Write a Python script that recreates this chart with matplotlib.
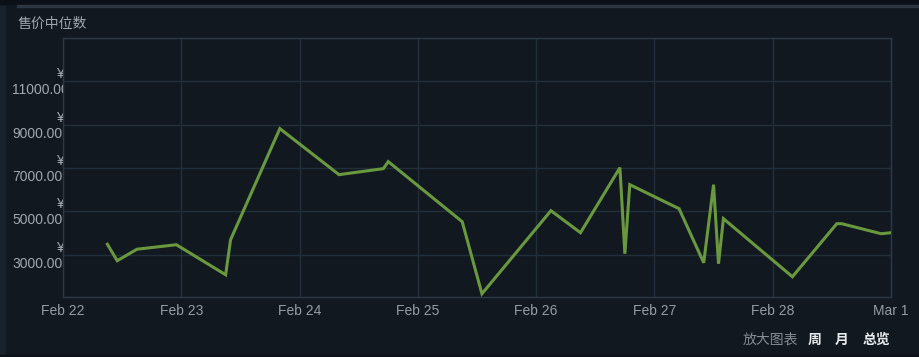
import matplotlib
matplotlib.use("Agg")
import matplotlib.pyplot as plt
import matplotlib.dates as mdates
import matplotlib.transforms as mtrans
from matplotlib.ticker import FuncFormatter
from matplotlib.patches import Rectangle
import pandas as pd

plt.rcParams['font.family'] = ['Liberation Sans', 'Noto Sans CJK SC', 'DejaVu Sans']

# ---- data ----
timestamps = [
    "2023-02-22 09:00", "2023-02-22 11:00", "2023-02-22 15:00", "2023-02-22 23:00",
    "2023-02-23 09:00", "2023-02-23 10:00", "2023-02-23 20:00",
    "2023-02-24 08:00", "2023-02-24 17:00", "2023-02-24 18:00",
    "2023-02-25 09:00", "2023-02-25 13:00",
    "2023-02-26 03:00", "2023-02-26 09:00", "2023-02-26 17:00", "2023-02-26 18:00", "2023-02-26 19:00",
    "2023-02-27 05:00", "2023-02-27 10:00", "2023-02-27 12:00", "2023-02-27 13:00", "2023-02-27 14:00",
    "2023-02-28 04:00", "2023-02-28 13:00", "2023-02-28 14:00", "2023-02-28 22:00",
    "2023-03-01 00:00",
]
median_price = [
    3485, 2723, 3254, 3462,
    2076, 3693, 8820,
    6695, 6972, 7296,
    4524, 1199,
    5032, 4016, 7019, 3046, 6233,
    5125, 2630, 6233, 2584, 4663,
    1984, 4432, 4432, 3970,
    4016,
]
y_ticks = [3000, 5000, 7000, 9000, 11000]
x_start = "2023-02-22"
x_end = "2023-03-01"
title_text = "售价中位数"
footer_label = "放大图表"
footer_buttons = ["周", "月", "总览"]

# ---- style ----
BG = '#111820'
GRID = '#222e39'
BORDER = '#2b3946'
LINE = '#6a983f'
TICK = '#a0a7ae'

W, H = 920, 357
fig = plt.figure(figsize=(W / 100, H / 100), dpi=100)
fig.patch.set_facecolor(BG)

# decorative frame bits
fig.add_artist(Rectangle((0, 0), 5 / W, 1, transform=fig.transFigure, color='#18222d', zorder=0))
fig.add_artist(Rectangle((0, 1 - 4 / H), 1, 4 / H, transform=fig.transFigure, color='#0c1117', zorder=0))
fig.add_artist(Rectangle((17 / W, 1 - 7 / H), 1, 2 / H, transform=fig.transFigure, color='#2a3642', zorder=0))
fig.add_artist(Rectangle((0, 0), 1, 2 / H, transform=fig.transFigure, color='#0c1117', zorder=0))

L, R, T, B = 63, 891, 38, 297
ax = fig.add_axes([L / W, 1 - B / H, (R - L) / W, (B - T) / H])
ax.set_facecolor(BG)

x = pd.to_datetime(timestamps)
ax.plot(x, median_price, color=LINE, lw=2.2, solid_joinstyle='miter', zorder=3)

ax.set_xlim(pd.Timestamp(x_start), pd.Timestamp(x_end))
ax.set_ylim(1050, 13000)

ax.xaxis.set_major_locator(mdates.DayLocator())
ax.xaxis.set_major_formatter(FuncFormatter(lambda v, p: (lambda d: f"{d:%b} {d.day}")(mdates.num2date(v))))
ax.set_yticks(y_ticks)
ax.set_yticklabels([])

ax.grid(True, color=GRID, lw=1)
ax.axhline(13000, color=GRID, lw=1)
ax.set_axisbelow(True)
for s in ax.spines.values():
    s.set_color(BORDER)
    s.set_linewidth(1)

ax.tick_params(axis='x', length=0, pad=5, labelsize=10, labelcolor='#959ca3')
ax.tick_params(axis='y', length=0)

# y labels: "¥" over value, clipped at plot left edge
clip = Rectangle((0, 0), (L + 0.5) / W, 1, transform=fig.transFigure, visible=False)
fig.add_artist(clip)
ytr = ax.get_yaxis_transform()
for v in y_ticks:
    t1 = ax.text(0, v, "¥", transform=ytr + mtrans.ScaledTranslation(1 / 100, 7 / 100, fig.dpi_scale_trans),
                 ha='right', va='center', fontsize=10, color=TICK)
    t2 = ax.text(0, v, f"{v:.2f}", transform=ytr + mtrans.ScaledTranslation(-(L - 12) / 100, -9 / 100, fig.dpi_scale_trans),
                 ha='left', va='center', fontsize=10, color=TICK)
    for t in (t1, t2):
        t.set_clip_on(True)
        t.set_clip_path(clip)

fig.text(18 / W, 1 - 24 / H, title_text, fontsize=10, color='#a0a7ae', ha='left', va='center')

fig.text(743 / W, 1 - 340 / H, footer_label, fontsize=10, color='#858c93', ha='left', va='center')
for label, xp in zip(footer_buttons, [808, 835, 863]):
    fig.text(xp / W, 1 - 340 / H, label, fontsize=10, color='#e8ebee', fontweight='bold', ha='left', va='center')

fig.savefig("out.png", dpi=100, facecolor=BG)
